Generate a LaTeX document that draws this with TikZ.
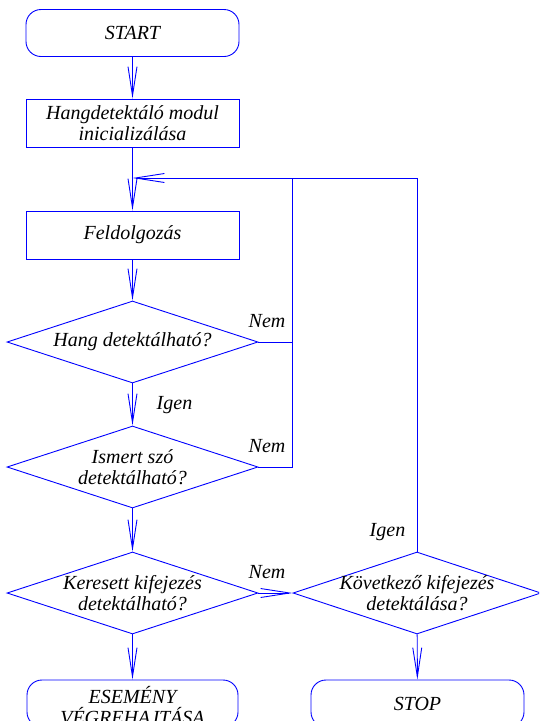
\documentclass[tikz,border=0pt]{standalone}
\usepackage{fontspec}
\setmainfont{Liberation Serif}
\usetikzlibrary{arrows.meta,shapes.geometric}
\begin{document}
\begin{tikzpicture}[x=1pt,y=-1pt,
  every node/.style={font=\fontsize{20}{21}\selectfont\itshape, align=center},
  ln/.style={draw=blue, line width=0.9pt},
  arr/.style={ln, -{Straight Barb[length=29pt,width=9pt,line width=0.9pt]}},
  term/.style={ln, rounded corners=15pt, minimum width=213pt, minimum height=47pt, inner sep=0pt},
  procbox/.style={ln, minimum width=213pt, minimum height=48pt, inner sep=0pt},
  dia/.style={ln, shape=diamond, inner sep=0pt, minimum width=251pt, minimum height=82pt},
  lbl/.style={anchor=base, inner sep=0pt}
]
\useasboundingbox (0,0) rectangle (539,721);
\clip (0,0) rectangle (539,721);

\node[term] (start) at (132.5,33) {START};
\node[procbox] (init) at (132.5,123) {Hangdetektáló modul\\inicializálása};
\node[procbox] (proc) at (132.5,235) {Feldolgozás};
\node[dia] (d1) at (132.5,342) {};
\node at (d1) {Hang detektálható?};
\node[dia] (d2) at (132.5,467) {};
\node at (d2) {Ismert szó\\detektálható?};
\node[dia] (d3) at (132.5,593) {};
\node at (d3) {Keresett kifejezés\\detektálható?};
\node[dia, minimum width=248pt] (d4) at (417,593) {};
\node at (d4) {Következő kifejezés\\detektálása?};
\node[term, minimum width=211pt] (esem) at (132.5,703.5) {};
\node at (132.5,706) {ESEMÉNY\\VÉGREHAJTÁSA};
\node[term] (stop) at (417.5,703.5) {STOP};

\coordinate (j) at (132.5,178);
\coordinate (c1) at (292,178);

\draw[arr] (start) -- (init);
\draw[arr] (init) -- (proc);
\draw[arr] (proc) -- (d1);
\draw[arr] (d1) -- (d2);
\draw[arr] (d2) -- (d3);
\draw[arr] (d3) -- (d4);
\draw[arr] (d3) -- (esem);
\draw[arr] (d4) -- (stop);
\draw[arr] (d4.north) |- (j);
\draw[ln] (d1.east) -- (d1.east -| c1);
\draw[ln] (d2.east) -- (d2.east -| c1) -- (c1);

\node[lbl] (n1) at (267,327) {Nem};
\node[lbl] (n2) at (267,452) {Nem};
\node[lbl] (n3) at (267,578) {Nem};
\node[lbl] (i1) at (174.5,409) {Igen};
\node[lbl] (i2) at (387.5,536) {Igen};
\end{tikzpicture}
\end{document}
